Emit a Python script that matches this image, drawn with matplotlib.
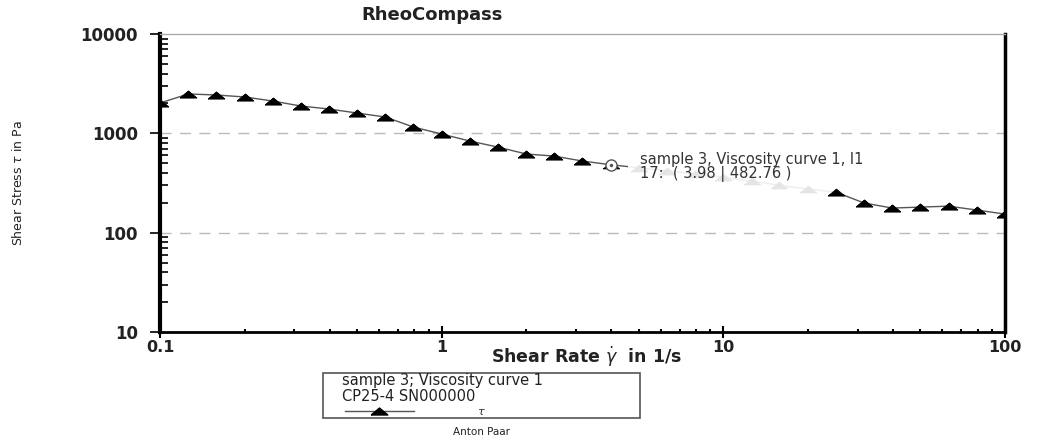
import matplotlib.pyplot as plt
from matplotlib.lines import Line2D
from matplotlib.patches import Rectangle
from matplotlib.ticker import LogLocator, NullFormatter, FixedLocator, FixedFormatter

# flow curve, 10 points per decade
shear_rate = [0.1, 0.126, 0.158, 0.2, 0.251, 0.316, 0.398, 0.501, 0.631, 0.794,
              1.0, 1.26, 1.58, 2.0, 2.51, 3.16, 3.98, 5.01, 6.31, 7.94,
              10.0, 12.6, 15.8, 20.0, 25.1, 31.6, 39.8, 50.1, 63.1, 79.4, 100.0]
shear_stress = [2018, 2489, 2432, 2321, 2115, 1884, 1757, 1600, 1459, 1157,
                984, 836, 728, 619, 590, 526, 482.76, 450, 420, 390,
                360, 330, 300, 275, 256, 199, 177, 181, 185, 169, 154]

sel_idx = 16  # point 17 is the picked one
sel_label = "sample 3, Viscosity curve 1, I1\n17:  ( 3.98 | 482.76 )"
hidden = range(17, 24)  # points lying under the info box

x_ticks = [0.1, 1, 10, 100]
x_ticklabels = ["0.1", "1", "10", "100"]
y_ticks = [10, 100, 1000, 10000]
y_ticklabels = ["10", "100", "1000", "10000"]

plt.rcParams['font.family'] = ['DejaVu Sans']

# flat triangle like the RheoCompass symbol
tri = [(-1.0, -0.42), (1.0, -0.42), (0.0, 0.42), (-1.0, -0.42)]

fig = plt.figure(figsize=(10.41, 4.41), dpi=100)
ax = fig.add_axes([0.1537, 0.247, 0.8117, 0.676])

ax.plot(shear_rate, shear_stress, color='#555555', lw=1.0, marker=tri,
        ms=12, mfc='black', mec='black', mew=0.5, zorder=3)
# markers outside the info box stay on top of it
vis_x = [x for i, x in enumerate(shear_rate) if i not in hidden and i != sel_idx]
vis_y = [y for i, y in enumerate(shear_stress) if i not in hidden and i != sel_idx]
ax.plot(vis_x, vis_y, ls='none', marker=tri, ms=12, mfc='black', mec='black',
        mew=0.5, zorder=7)
ax.plot(shear_rate[sel_idx], shear_stress[sel_idx], marker='o', ms=8,
        mfc='white', mec='#555555', mew=1.0, zorder=8)
ax.plot(shear_rate[sel_idx], shear_stress[sel_idx], marker='.', ms=3,
        color='#555555', zorder=9)

ax.text(5.05, shear_stress[sel_idx] * 0.95, sel_label, fontsize=10.5, color='#333333',
        va='center', ha='left', linespacing=0.9, zorder=6,
        bbox=dict(boxstyle='square,pad=0.8', fc='white', ec='none', alpha=0.9))

ax.set_xscale('log')
ax.set_yscale('log')
ax.set_xlim(0.1, 100)
ax.set_ylim(10, 10000)

ax.xaxis.set_major_locator(FixedLocator(x_ticks))
ax.xaxis.set_major_formatter(FixedFormatter(x_ticklabels))
ax.yaxis.set_major_locator(FixedLocator(y_ticks))
ax.yaxis.set_major_formatter(FixedFormatter(y_ticklabels))
ax.xaxis.set_minor_locator(LogLocator(base=10, subs=range(2, 10)))
ax.yaxis.set_minor_locator(LogLocator(base=10, subs=range(2, 10)))
ax.xaxis.set_minor_formatter(NullFormatter())
ax.yaxis.set_minor_formatter(NullFormatter())

ax.tick_params(axis='y', which='major', direction='out', length=7, width=1.2,
               labelsize=12, pad=9)
ax.tick_params(axis='y', which='minor', direction='in', length=6, width=1.2)
ax.tick_params(axis='x', which='major', direction='inout', length=8, width=1.5,
               labelsize=11.5, pad=2)
ax.tick_params(axis='x', which='minor', direction='in', length=2.5, width=1.5)
for lab in ax.get_xticklabels() + ax.get_yticklabels():
    lab.set_fontweight('bold')
    lab.set_color('#222222')

ax.grid(False)
for yv in [100, 1000]:
    ax.axhline(yv, color='#bbbbbb', lw=1, ls=(0, (8, 6)), zorder=1)

ax.spines['left'].set_linewidth(3)
ax.spines['bottom'].set_linewidth(2)
ax.spines['right'].set_linewidth(2.5)
ax.spines['top'].set_linewidth(1)
ax.spines['top'].set_color('#aaaaaa')

ax.set_xlabel(r"Shear Rate $\dot{\gamma}$  in 1/s", fontsize=12.5, fontweight='bold',
              color='#222222', va='center')
ax.xaxis.set_label_coords(0.505, -0.084)
ax.set_ylabel(r"Shear Stress $\tau$ in Pa", fontsize=9, color='#222222',
              labelpad=40)

fig.text(0.415, 0.966, "RheoCompass", fontsize=13, fontweight='semibold',
         ha='center', va='center', color='#222222')

# legend box
fig.patches.append(Rectangle((0.310, 0.052), 0.3045, 0.102, transform=fig.transFigure,
                             fill=False, ec='#555555', lw=1.2))
fig.text(0.329, 0.137, "sample 3; Viscosity curve 1", fontsize=10.5, color='#222222',
         va='center')
fig.text(0.329, 0.102, "CP25-4 SN000000", fontsize=10.5, color='#222222', va='center')
fig.lines.append(Line2D([0.331, 0.3645, 0.398], [0.068, 0.068, 0.068],
                        transform=fig.transFigure, color='#555555', lw=1,
                        marker=tri, markevery=[1], ms=12, mfc='black', mec='black'))
fig.text(0.458, 0.066, r"$\tau$", fontsize=8, color='#333333', va='center')

fig.text(0.463, 0.020, "Anton Paar", fontsize=7.5, ha='center', va='center',
         color='#222222')

fig.savefig('out.png', dpi=100)
